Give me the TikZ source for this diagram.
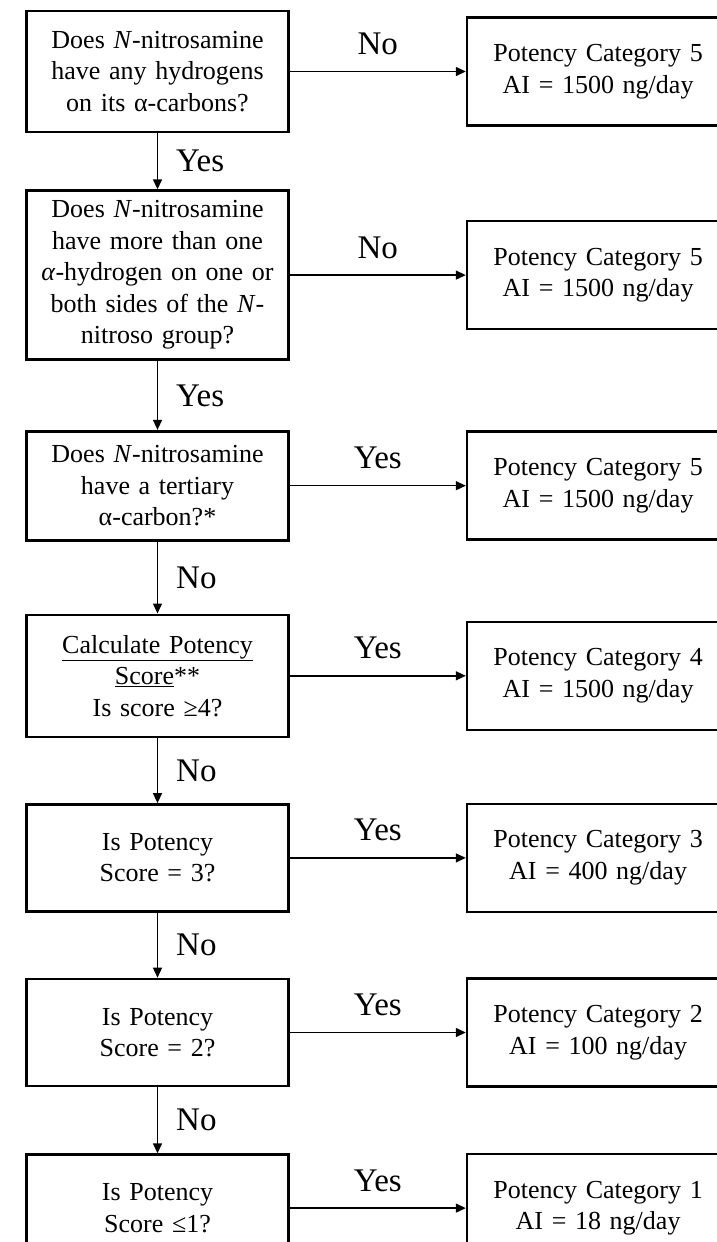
\documentclass[tikz,border=0pt]{standalone}
\usepackage{fontspec}
\setmainfont{Liberation Serif}
\usetikzlibrary{positioning,arrows.meta}

\begin{document}
\begin{tikzpicture}[x=1pt,y=-1pt,
		question/.style={ % box of the left column
				draw, line width=2.6pt, text width=254pt, inner sep=4pt,
				align=center, font=\fontsize{26}{31.5}\selectfont
			},
		category/.style={question, minimum height=108pt},
		flow/.style={line width=1.4pt, -{Triangle[length=10pt,width=9pt]}},
		answer/.style={inner sep=0pt, font=\fontsize{33}{38}\selectfont}
	]
	\useasboundingbox (0,0) rectangle (717,1242);
	\clip (0,0) rectangle (717,1242);
	% questions, left
	\node[question,minimum height=121pt] (q1) at (157.5,71.5)
		{Does \textit{N}-nitrosamine\\ have any hydrogens\\ on its α-carbons?};
	\node[question,minimum height=169pt,below=56pt of q1] (q2)
		{Does \textit{N}-nitrosamine\\ have more than one\\ \textit{α}-hydrogen on one or\\ both sides of the \textit{N}-\\ nitroso group?};
	\node[question,minimum height=109pt,below=69pt of q2] (q3)
		{Does \textit{N}-nitrosamine\\ have a tertiary\\ α-carbon?*};
	\node[question,minimum height=122pt,below=72pt of q3] (q4)
		{\underline{Calculate Potency}\\ \underline{Score}**\\ Is score ≥4?};
	\node[question,minimum height=107pt,below=65pt of q4] (q5)
		{Is Potency\\ Score = 3?};
	\node[question,minimum height=107pt,below=65pt of q5] (q6)
		{Is Potency\\ Score = 2?};
	\node[question,minimum height=107pt,below=66pt of q6] (q7)
		{Is Potency\\ Score ≤1?};
	% categories, right
	\node[category,right=176pt of q1] (r1) {Potency Category 5\\ AI = 1500 ng/day};
	\node[category,right=176pt of q2] (r2) {Potency Category 5\\ AI = 1500 ng/day};
	\node[category,right=176pt of q3] (r3) {Potency Category 5\\ AI = 1500 ng/day};
	\node[category,right=176pt of q4] (r4) {Potency Category 4\\ AI = 1500 ng/day};
	\node[category,right=176pt of q5] (r5) {Potency Category 3\\ AI = 400 ng/day};
	\node[category,right=176pt of q6] (r6) {Potency Category 2\\ AI = 100 ng/day};
	\node[category,right=176pt of q7] (r7) {Potency Category 1\\ AI = 18 ng/day};
	% down the column
	\draw[flow] (q1) -- node[answer,midway,right=18pt] {Yes} (q2);
	\draw[flow] (q2) -- node[answer,midway,right=18pt] {Yes} (q3);
	\draw[flow] (q3) -- node[answer,midway,right=18pt] {No} (q4);
	\draw[flow] (q4) -- node[answer,midway,right=18pt] {No} (q5);
	\draw[flow] (q5) -- node[answer,midway,right=18pt] {No} (q6);
	\draw[flow] (q6) -- node[answer,midway,right=18pt] {No} (q7);
	% across to the categories
	\draw[flow] (q1) -- node[answer,midway,above=16pt] {No} (r1);
	\draw[flow] (q2) -- node[answer,midway,above=16pt] {No} (r2);
	\draw[flow] (q3) -- node[answer,midway,above=16pt] {Yes} (r3);
	\draw[flow] (q4) -- node[answer,midway,above=16pt] {Yes} (r4);
	\draw[flow] (q5) -- node[answer,midway,above=16pt] {Yes} (r5);
	\draw[flow] (q6) -- node[answer,midway,above=16pt] {Yes} (r6);
	\draw[flow] (q7) -- node[answer,midway,above=16pt] {Yes} (r7);
\end{tikzpicture}
\end{document}
